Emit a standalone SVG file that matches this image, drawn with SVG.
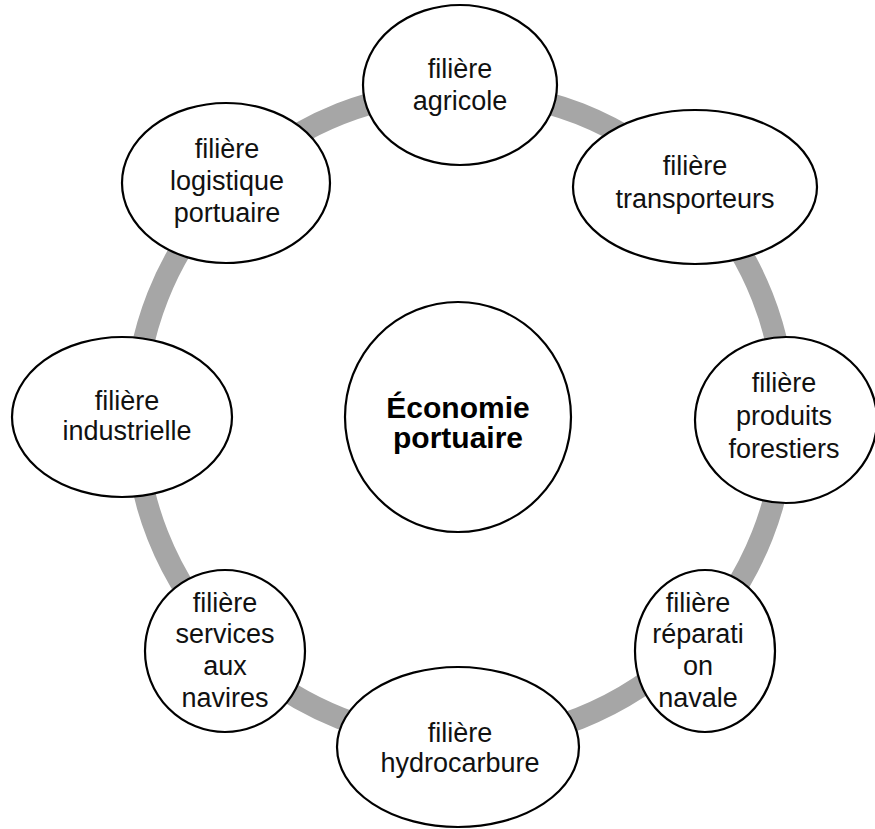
<svg xmlns="http://www.w3.org/2000/svg" width="875" height="829" viewBox="0 0 875 829">
<style>
.n{fill:#ffffff;stroke:#000000;stroke-width:2.2}
.t{font-family:"Liberation Sans",Arial,sans-serif;font-size:27px;fill:#111111;text-anchor:middle}
.b{font-family:"Liberation Sans",Arial,sans-serif;font-size:30px;font-weight:bold;fill:#000000;text-anchor:middle}
.ring{fill:none;stroke:#a6a6a6;stroke-width:22}
</style>
<rect width="875" height="829" fill="#ffffff"/>
<g id="connectors">
<circle class="ring" cx="460" cy="416" r="325"/>
</g>
<g id="center">
<ellipse class="n" cx="458" cy="417" rx="113" ry="115"/>
<text class="b" x="458" y="418">Économie</text>
<text class="b" x="458" y="448">portuaire</text>
</g>
<g id="agricole">
<ellipse class="n" cx="460" cy="85" rx="97" ry="80"/>
<text class="t" x="460" y="78">filière</text>
<text class="t" x="460" y="110">agricole</text>
</g>
<g id="transporteurs">
<ellipse class="n" cx="695" cy="187" rx="122" ry="77"/>
<text class="t" x="695" y="175">filière</text>
<text class="t" x="695" y="208">transporteurs</text>
</g>
<g id="produits-forestiers">
<ellipse class="n" cx="786" cy="420" rx="91" ry="83"/>
<text class="t" x="784" y="392">filière</text>
<text class="t" x="784" y="425">produits</text>
<text class="t" x="784" y="458">forestiers</text>
</g>
<g id="reparation-navale">
<ellipse class="n" cx="705" cy="651" rx="70" ry="81"/>
<text class="t" x="698" y="612">filière</text>
<text class="t" x="698" y="643">réparati</text>
<text class="t" x="698" y="675">on</text>
<text class="t" x="698" y="707">navale</text>
</g>
<g id="hydrocarbure">
<ellipse class="n" cx="458" cy="747" rx="121" ry="80"/>
<text class="t" x="460" y="742">filière</text>
<text class="t" x="460" y="772">hydrocarbure</text>
</g>
<g id="services-aux-navires">
<ellipse class="n" cx="225" cy="651" rx="80" ry="81"/>
<text class="t" x="225" y="612">filière</text>
<text class="t" x="225" y="643">services</text>
<text class="t" x="225" y="675">aux</text>
<text class="t" x="225" y="707">navires</text>
</g>
<g id="industrielle">
<ellipse class="n" cx="122" cy="417" rx="110" ry="80"/>
<text class="t" x="127" y="410">filière</text>
<text class="t" x="127" y="440">industrielle</text>
</g>
<g id="logistique-portuaire">
<ellipse class="n" cx="226" cy="183" rx="104" ry="80"/>
<text class="t" x="227" y="158">filière</text>
<text class="t" x="227" y="190">logistique</text>
<text class="t" x="227" y="222">portuaire</text>
</g>
</svg>
